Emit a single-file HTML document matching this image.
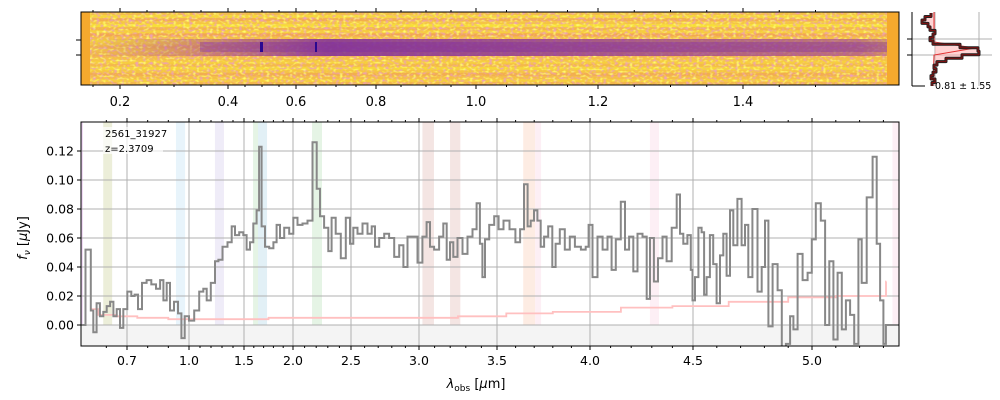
<!DOCTYPE html>
<html><head><meta charset="utf-8"><style>
body{margin:0;background:#fff;}
svg{display:block;font-family:"DejaVu Sans","Liberation Sans",sans-serif;}
</style></head><body>
<svg id="c" width="1000" height="400" xmlns="http://www.w3.org/2000/svg">
<defs>
<clipPath id="mainclip"><rect x="81" y="122" width="818" height="224"/></clipPath>
<clipPath id="topclip"><rect x="81" y="12" width="818" height="73"/></clipPath>
<linearGradient id="bandg" x1="0" x2="1" y1="0" y2="0">
<stop offset="0" stop-color="#b04a8a" stop-opacity="0"/>
<stop offset="0.15" stop-color="#a03c90" stop-opacity="0.45"/>
<stop offset="0.3" stop-color="#7e2a9c" stop-opacity="0.85"/>
<stop offset="0.6" stop-color="#8a309a" stop-opacity="0.75"/>
<stop offset="0.95" stop-color="#9a3a96" stop-opacity="0.6"/>
<stop offset="1" stop-color="#9a3a96" stop-opacity="0.3"/>
</linearGradient>
<filter id="noise" x="0" y="0" width="100%" height="100%">
<feTurbulence type="fractalNoise" baseFrequency="0.28 0.4" numOctaves="1" seed="3" result="t"/>
<feColorMatrix in="t" type="matrix" values="0 0 0 0 0.85  0 0 0 0 0.35  0 0 0 0 0.5  3.2 0 0 0 -1.55"/>
</filter>
<filter id="noise2" x="0" y="0" width="100%" height="100%">
<feTurbulence type="fractalNoise" baseFrequency="0.3 0.45" numOctaves="1" seed="11" result="t"/>
<feColorMatrix in="t" type="matrix" values="0 0 0 0 1  0 0 0 0 0.98  0 0 0 0 0.15  3.5 0 0 0 -1.8"/>
</filter>
</defs>
<g id="topPanel"></g>
<g id="sidePanel"></g>
<g id="mainPanel"></g>
</svg>
<script>
// ---- data ----
const wave = [0.477,0.521,0.529,0.545,0.561,0.577,0.594,0.610,0.626,0.642,0.658,0.674,0.690,0.713,0.729,0.745,0.761,0.784,0.806,0.829,0.852,0.868,0.884,0.900,0.916,0.939,0.955,0.971,0.987,1.024,1.070,1.115,1.145,1.176,1.221,1.252,1.282,1.327,1.373,1.403,1.433,1.479,1.510,1.544,1.578,1.612,1.646,1.663,1.697,1.732,1.783,1.816,1.850,1.885,1.936,1.987,2.017,2.060,2.103,2.147,2.190,2.218,2.247,2.290,2.319,2.347,2.390,2.434,2.477,2.505,2.529,2.566,2.603,2.640,2.664,2.689,2.726,2.762,2.799,2.836,2.873,2.897,2.934,2.971,3.006,3.038,3.060,3.081,3.113,3.145,3.167,3.188,3.209,3.231,3.263,3.295,3.327,3.359,3.380,3.401,3.412,3.434,3.466,3.498,3.519,3.551,3.583,3.615,3.633,3.657,3.672,3.690,3.708,3.726,3.744,3.762,3.789,3.806,3.824,3.851,3.878,3.905,3.933,3.969,3.985,4.000,4.024,4.049,4.073,4.097,4.113,4.137,4.162,4.178,4.202,4.218,4.243,4.267,4.283,4.300,4.320,4.340,4.364,4.380,4.413,4.429,4.445,4.461,4.485,4.494,4.501,4.516,4.529,4.543,4.550,4.564,4.578,4.592,4.606,4.621,4.634,4.648,4.663,4.676,4.697,4.711,4.726,4.739,4.760,4.782,4.795,4.810,4.824,4.845,4.866,4.880,4.901,4.915,4.929,4.950,4.971,4.992,5.006,5.026,5.048,5.062,5.083,5.097,5.118,5.132,5.153,5.167,5.188,5.202,5.216,5.244,5.265,5.279,5.293,5.307,5.314,5.340,5.365];
const flux = [0,0.052,0.010,-0.005,0.015,0.006,0.009,0.013,0.016,0.006,0.011,-0.002,0.011,0.023,0.020,0.021,0.011,0.029,0.031,0.028,0.025,0.031,0.017,0.029,0.010,0.016,0.008,-0.009,0.006,0.003,0.010,0.023,0.025,0.017,0.029,0.044,0.045,0.054,0.057,0.068,0.062,0.064,0.062,0.052,0.057,0.070,0.079,0.123,0.068,0.054,0.053,0.057,0.069,0.060,0.067,0.063,0.074,0.069,0.070,0.072,0.126,0.094,0.075,0.067,0.051,0.074,0.063,0.046,0.074,0.056,0.067,0.063,0.070,0.063,0.068,0.054,0.060,0.063,0.060,0.047,0.055,0.040,0.061,0.061,0.043,0.061,0.071,0.054,0.052,0.061,0.070,0.045,0.057,0.047,0.060,0.049,0.061,0.066,0.084,0.056,0.033,0.059,0.069,0.075,0.066,0.072,0.066,0.057,0.066,0.097,0.068,0.072,0.079,0.072,0.054,0.061,0.068,0.040,0.056,0.066,0.052,0.061,0.054,0.052,0.054,0.069,0.033,0.061,0.052,0.061,0.038,0.059,0.085,0.052,0.061,0.037,0.063,0.061,0.018,0.060,0.030,0.046,0.061,0.044,0.067,0.090,0.063,0.056,0.062,0.038,0.017,0.033,0.067,0.064,0.021,0.033,0.062,0.042,0.015,0.048,0.063,0.034,0.079,0.055,0.087,0.055,0.069,0.033,0.080,0.023,0.040,0.072,-0.001,0.042,0.024,-0.015,-0.013,0.006,-0.003,0.049,0.031,0.036,0.059,0.084,0.072,0.000,0.044,-0.010,0.036,-0.003,0.017,0.007,-0.013,0.059,0.029,0.088,0.116,0.056,0.017,-0.013,0,0,0];
const errWave = [0.521,0.6,0.7,0.8,1.0,1.5,2.0,2.5,3.0,3.5,3.6,4.0,4.3,4.5,4.8,5.0,5.2,5.31,5.312];
const errFlux = [0.011,0.007,0.006,0.005,0.004,0.004,0.005,0.005,0.005,0.006,0.008,0.009,0.012,0.013,0.016,0.019,0.020,0.020,0.030];
const xTicks = [0.7,1.0,1.5,2.0,2.5,3.0,3.5,4.0,4.5,5.0];
const xTickLabels = ["0.7","1.0","1.5","2.0","2.5","3.0","3.5","4.0","4.5","5.0"];
const yTicks = [0,0.02,0.04,0.06,0.08,0.10,0.12];
const yTickLabels = ["0.00","0.02","0.04","0.06","0.08","0.10","0.12"];
const lineBandLo = [0.480,0.585,0.937,1.236,1.592,1.643,2.164,3.022,3.199,3.641,3.705,4.291,5.338];
const lineBandHi = [0.486,0.628,0.981,1.318,1.643,1.735,2.250,3.096,3.265,3.705,3.737,4.335,5.365];
const lineBandColors = ["#e0b0e8","#dfe3c0","#d8ecf8","#e4e0f4","#d4ecd4","#cfe6f0","#d4ecd4","#ecd4d0","#ecd4d0","#fbe0d0","#fbe4ee","#fbe4ee","#fbe4ee"];
const topTicks = [0.2,0.4,0.6,0.8,1.0,1.2,1.4];
const topTickLabels = ["0.2","0.4","0.6","0.8","1.0","1.2","1.4"];
const rowTints = [0.5,0.2,0.7,0.4,0.1,0.6,0.3,0.8,0.5,0.2,0.35,0.6,0.4,0.5,0.6,0.45,0.3,0.55,0.2,0.4,0.7,0.5,0.3,0.6];
const histCounts = [9,3,0,6,8,13,11,8,11,38,56,57,40,24,15,12,14,11,9,13,10];

// ---- axes ----
const KW=[0.7,1.0,1.5,2.0,2.5,3.0,3.5,4.0,4.5,5.0], KP=[127,189,244,293,351,419,497,590,693,812];
function pw(v,kw,kp){
  if(v<=kw[0]) return kp[0]+(v-kw[0])*(kp[1]-kp[0])/(kw[1]-kw[0]);
  for(let i=1;i<kw.length;i++) if(v<=kw[i]) return kp[i-1]+(v-kw[i-1])*(kp[i]-kp[i-1])/(kw[i]-kw[i-1]);
  const n=kw.length-1; return kp[n]+(v-kw[n])*(kp[n]-kp[n-1])/(kw[n]-kw[n-1]);
}
const X=v=>pw(v,KW,KP);
const Y=f=>325-f*1450;
const TW=[0.2,0.4,0.6,0.8,1.0,1.2,1.4], TP=[120,228,296,376,476,598,743];
const XT=v=>pw(v,TW,TP);
const NS="http://www.w3.org/2000/svg";
function mk(tag,attrs,parent){const el=document.createElementNS(NS,tag);for(const k in attrs)el.setAttribute(k,attrs[k]);parent.appendChild(el);return el;}
let e;

// ---- top panel ----
const topG=document.getElementById('topPanel');
const topClip=mk('g',{'clip-path':'url(#topclip)'},topG);
const rowH=73/rowTints.length;
rowTints.forEach((t,i)=>{
  const r=Math.round(248-t*8), g=Math.round(230-t*80), b=Math.round(50+t*40);
  const el=mk('rect',{x:81,y:12+i*rowH,width:818,height:rowH+0.3,fill:`rgb(${r},${g},${b})`},topClip);
  
  
});
e=mk('rect',{x:81,y:12,width:818,height:73,filter:'url(#noise)'},topClip);


e=mk('rect',{x:81,y:12,width:818,height:73,filter:'url(#noise2)'},topClip);


e=mk('rect',{x:81,y:39,width:818,height:17,fill:'url(#bandg)'},topClip);


e=mk('rect',{x:200,y:42,width:690,height:10,fill:'#7a2aa0',opacity:0.35},topClip);


[[260,3],[315,2]].forEach(p=>{
  const s=mk('rect',{x:p[0],y:42,width:p[1],height:10,fill:'#2a0890'},topClip);
  
  
});
e=mk('rect',{x:81,y:12,width:9,height:73,fill:'#f5a92e'},topClip);


e=mk('rect',{x:887,y:12,width:12,height:73,fill:'#f5a92e'},topClip);


e=mk('rect',{x:81,y:12,width:818,height:73,fill:'none',stroke:'#000','stroke-width':1},topG);


[40,55].forEach(y=>mk('line',{x1:76,x2:81,y1:y,y2:y,stroke:'#000'},topG));
topTicks.forEach((t,i)=>{
  const x=XT(t);
  mk('line',{x1:x,x2:x,y1:85,y2:89,stroke:'#000'},topG);
  mk('line',{x1:x,x2:x,y1:12,y2:8,stroke:'#000'},topG);
  const tx=mk('text',{x:x,y:106,'font-size':13,'text-anchor':'middle',fill:'#000'},topG);
  tx.textContent=topTickLabels[i];
  
  
});
for(let v=0.15;v<1.55;v+=0.05){const x=XT(v);if(x>81&&x<899){mk('line',{x1:x,x2:x,y1:85,y2:87,stroke:'#000'},topG);mk('line',{x1:x,x2:x,y1:12,y2:10,stroke:'#000'},topG);}}

// ---- side panel ----
const sideG=document.getElementById('sidePanel');
[39,55].forEach(y=>mk('line',{x1:912,x2:992,y1:y,y2:y,stroke:'#b0b0b0'},sideG));
[935,979].forEach(x=>mk('line',{x1:x,x2:x,y1:12,y2:86,stroke:'#b0b0b0'},sideG));
mk('line',{x1:912,x2:912,y1:12,y2:86,stroke:'#000'},sideG);
mk('line',{x1:912,x2:925,y1:86,y2:86,stroke:'#000'},sideG);
[39,55].forEach(y=>mk('line',{x1:907,x2:912,y1:y,y2:y,stroke:'#000'},sideG));
const hb=73/histCounts.length;
let hp=[];histCounts.forEach((c,i)=>{hp.push([922+c,13+i*hb]);hp.push([922+c,13+(i+1)*hb]);});
const hpts=hp.map(p=>p.join(',')).join(' ');
e=mk('polygon',{points:`935,13 ${hpts} 935,${13+histCounts.length*hb}`,fill:'#ffb0b0',opacity:0.55},sideG);


mk('polyline',{points:'934,12 934,42 975,48 934,55 933,86',fill:'none',stroke:'#e03030','stroke-width':1},sideG);
e=mk('polyline',{points:hpts,fill:'none',stroke:'#222','stroke-width':3,'stroke-linejoin':'round'},sideG);


mk('polyline',{points:hpts,fill:'none',stroke:'#8a1010','stroke-width':1},sideG);
e=mk('text',{x:935,y:89,'font-size':9.5,fill:'#000'},sideG);
e.textContent='0.81 ± 1.55';



// ---- main panel ----
const mainG=document.getElementById('mainPanel');
const cg=mk('g',{'clip-path':'url(#mainclip)'},mainG);
lineBandLo.forEach((lo,i)=>{
  const x0=X(lo),x1=X(lineBandHi[i]);
  const b=mk('rect',{x:x0,y:122,width:x1-x0,height:224,fill:lineBandColors[i],opacity:0.6},cg);
  
  
});
e=mk('rect',{x:81,y:Y(0),width:818,height:346-Y(0),fill:'#f4f4f4'},cg);


yTicks.forEach(t=>mk('line',{x1:81,x2:899,y1:Y(t),y2:Y(t),stroke:'#b0b0b0','stroke-width':1},cg));
xTicks.forEach(t=>mk('line',{x1:X(t),x2:X(t),y1:122,y2:346,stroke:'#b0b0b0','stroke-width':1},cg));
function stepPath(w,f){
  let d='';
  for(let i=0;i<w.length;i++){
    const xl=i==0?X(w[0]):(X(w[i-1])+X(w[i]))/2;
    const xr=i==w.length-1?X(w[i]):(X(w[i])+X(w[i+1]))/2;
    d+=(i==0?'M':'L')+xl.toFixed(1)+','+Y(f[i]).toFixed(1)+'L'+xr.toFixed(1)+','+Y(f[i]).toFixed(1);
  }
  return d;
}
e=mk('path',{d:stepPath(errWave,errFlux),fill:'none',stroke:'#ffc0c0','stroke-width':1.8},cg);


e=mk('path',{d:stepPath(wave,flux),fill:'none',stroke:'#888','stroke-width':2},cg);


mk('rect',{x:103,y:127,width:60,height:27,fill:'#fff',opacity:0.7},mainG);
e=mk('text',{x:105,y:137,'font-size':10,fill:'#000'},mainG);
e.textContent='2561_31927';


e=mk('text',{x:105,y:152,'font-size':10,fill:'#000'},mainG);
e.textContent='z=2.3709';


e=mk('rect',{x:81,y:122,width:818,height:224,fill:'none',stroke:'#000','stroke-width':1},mainG);


yTicks.forEach((t,i)=>{
  mk('line',{x1:77,x2:81,y1:Y(t),y2:Y(t),stroke:'#000'},mainG);
  const tx=mk('text',{x:74,y:Y(t)+4.5,'font-size':12.5,'text-anchor':'end',fill:'#000'},mainG);
  tx.textContent=yTickLabels[i];
  
  
});
xTicks.forEach((t,i)=>{
  const x=X(t);
  mk('line',{x1:x,x2:x,y1:346,y2:350,stroke:'#000'},mainG);
  mk('line',{x1:x,x2:x,y1:122,y2:118,stroke:'#000'},mainG);
  const tx=mk('text',{x:x,y:365,'font-size':12.5,'text-anchor':'middle',fill:'#000'},mainG);
  tx.textContent=xTickLabels[i];
  
  
});
for(let v=0.6;v<5.4;v+=0.1){const x=X(v);if(x>81&&x<899){mk('line',{x1:x,x2:x,y1:346,y2:348,stroke:'#000'},mainG);mk('line',{x1:x,x2:x,y1:122,y2:120,stroke:'#000'},mainG);}}
e=mk('text',{x:476,y:388,'font-size':13,'text-anchor':'middle',fill:'#000'},mainG);
e.innerHTML='<tspan font-style="italic">λ</tspan><tspan font-size="9" dy="3">obs</tspan><tspan dy="-3"> [</tspan><tspan font-style="italic">μ</tspan>m]';


e=mk('text',{x:0,y:0,'font-size':13,'text-anchor':'middle',fill:'#000',transform:'translate(27,238) rotate(-90)'},mainG);
e.innerHTML='<tspan font-style="italic">f</tspan><tspan font-size="9" font-style="italic" dy="3">ν</tspan><tspan dy="-3"> [</tspan><tspan font-style="italic">μ</tspan>Jy]';


</script>
</body></html>
